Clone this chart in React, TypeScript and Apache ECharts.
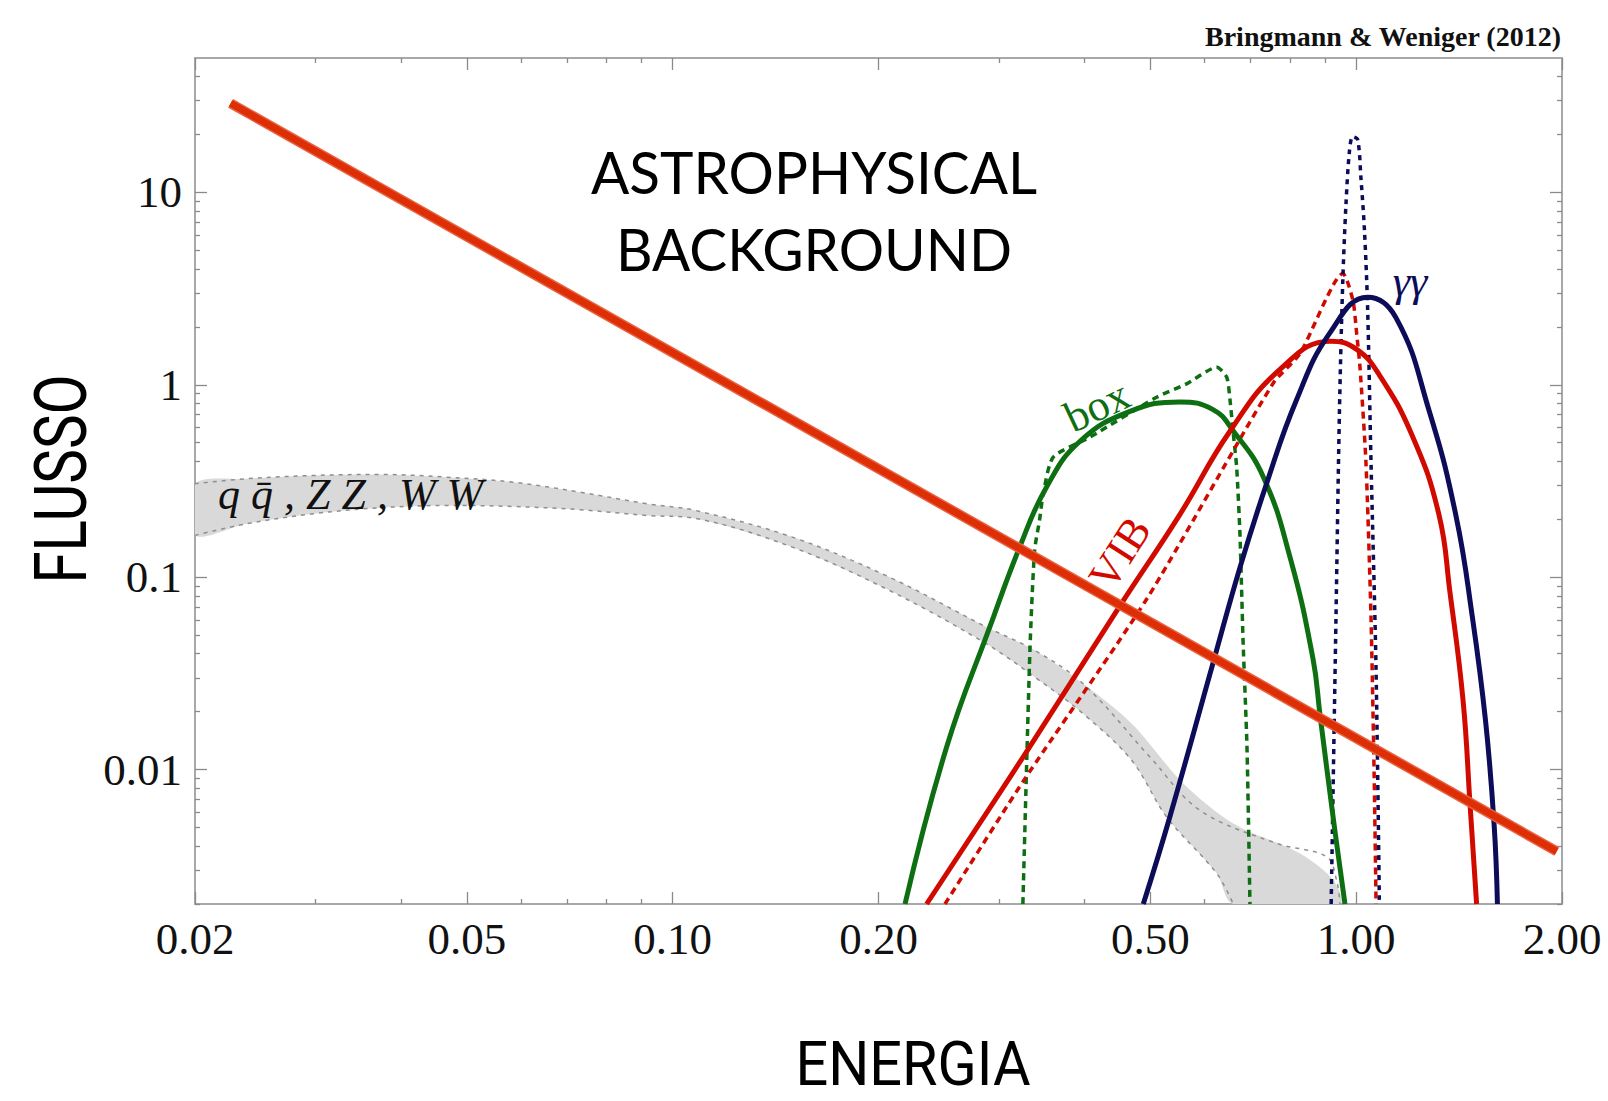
import React, { useEffect, useRef } from "react";
import * as echarts from "echarts";

// ---------- axes ----------
const xRange = [0.02, 2];
const yRange = [0.002, 50];
const xMajorTicks = [0.02, 0.05, 0.1, 0.2, 0.5, 1, 2];
const xMinorTicks = [0.03, 0.04, 0.06, 0.07, 0.08, 0.09, 0.3, 0.4, 0.6, 0.7, 0.8, 0.9];
const yMajorTicks = [0.01, 0.1, 1, 10];
const yMinorTicks = [
  0.002, 0.003, 0.004, 0.005, 0.006, 0.007, 0.008, 0.009,
  0.02, 0.03, 0.04, 0.05, 0.06, 0.07, 0.08, 0.09,
  0.2, 0.3, 0.4, 0.5, 0.6, 0.7, 0.8, 0.9,
  2, 3, 4, 5, 6, 7, 8, 9, 20, 30, 40,
];

// ---------- astrophysical background (power law) ----------
const bgE = [0.02255, 1.965];
const bgF = [29.07, 0.003753];

// ---------- box ----------
const boxSolidE = [0.2187, 0.2518, 0.291, 0.3221, 0.3525, 0.3943, 0.4667, 0.5522, 0.6173, 0.6604, 0.7304, 0.7998, 0.8643, 0.885, 0.9247, 0.9627];
const boxSolidF = [0.002, 0.01321, 0.0551, 0.1445, 0.2953, 0.509, 0.7275, 0.815, 0.7434, 0.5776, 0.3347, 0.1275, 0.0378, 0.0193, 0.00571, 0.002];
const boxDashE = [0.3253, 0.3331, 0.3384, 0.344, 0.3484, 0.3603, 0.4076, 0.5105, 0.5648, 0.6251, 0.6464, 0.6537, 0.6609, 0.6684, 0.676, 0.683, 0.692, 0.699];
const boxDashF = [0.002, 0.0417, 0.1378, 0.197, 0.2715, 0.4205, 0.534, 0.862, 1.012, 1.234, 1.095, 0.829, 0.5565, 0.373, 0.164, 0.0466, 0.0132, 0.002];

// ---------- VIB ----------
const vibSolidE = [0.2352, 0.3257, 0.451, 0.5522, 0.6531, 0.7727, 0.918, 0.999, 1.08, 1.209, 1.321, 1.371, 1.433, 1.467, 1.5];
const vibSolidF = [0.002, 0.01165, 0.0709, 0.2122, 0.572, 1.2, 1.687, 1.538, 1.131, 0.5387, 0.212, 0.0839, 0.0229, 0.00664, 0.002];
const vibDashE = [0.2502, 0.3257, 0.4937, 0.7554, 0.8273, 0.9563, 0.989, 1.0014, 1.0127, 1.0332, 1.051, 1.062, 1.069];
const vibDashF = [0.002, 0.0087, 0.077, 1.016, 1.454, 3.786, 2.742, 1.847, 1.234, 0.395, 0.0618, 0.00962, 0.002];

// ---------- gamma gamma ----------
const ggSolidE = [0.488, 0.534, 0.6178, 0.676, 0.7396, 0.8171, 0.914, 1.039, 1.143, 1.278, 1.398, 1.479, 1.546, 1.591, 1.609];
const ggSolidF = [0.002, 0.00572, 0.0362, 0.1125, 0.3078, 0.829, 1.851, 2.855, 2.236, 0.7355, 0.212, 0.0618, 0.01786, 0.0052, 0.002];
const ggDashE = [0.919, 0.934, 0.945, 0.9556, 0.966, 0.977, 0.988, 1.005, 1.016, 1.028, 1.039, 1.051, 1.069, 1.081];
const ggDashF = [0.002, 0.0616, 0.732, 3.44, 8.7, 16.16, 19.5, 18.8, 11.85, 6.39, 2.52, 0.395, 0.0332, 0.002];

// ---------- q qbar, ZZ, WW band ----------
const bandUpperE = [0.02, 0.0238, 0.02979, 0.0373, 0.0467, 0.05843, 0.07315, 0.09161, 0.1079, 0.1496, 0.2074, 0.2875, 0.3384, 0.3983, 0.4692, 0.5585, 0.6608, 0.8274, 0.9256, 0.9467];
const bandUpperF = [0.306, 0.3248, 0.3379, 0.342, 0.3311, 0.3119, 0.2768, 0.2408, 0.2223, 0.1616, 0.1001, 0.0551, 0.04166, 0.02798, 0.01734, 0.00846, 0.00524, 0.00366, 0.00266, 0.002];
const bandLowerE = [0.02, 0.0238, 0.02979, 0.0373, 0.0467, 0.05843, 0.07315, 0.09161, 0.1079, 0.1496, 0.2074, 0.2875, 0.3384, 0.3983, 0.4692, 0.528, 0.6251, 0.6608];
const bandLowerF = [0.1649, 0.1896, 0.2137, 0.2296, 0.236, 0.2332, 0.2242, 0.2094, 0.202, 0.1433, 0.0854, 0.0451, 0.0303, 0.01954, 0.01117, 0.00567, 0.00288, 0.002];
const bandUpperDashE = [0.02, 0.0238, 0.02979, 0.0373, 0.0467, 0.05843, 0.07315, 0.09161, 0.1079, 0.1496, 0.2074, 0.2875, 0.3384, 0.3983, 0.4991, 0.5906, 0.765, 0.905, 0.936, 0.9467];
const bandUpperDashF = [0.306, 0.3248, 0.3379, 0.342, 0.3311, 0.3119, 0.2768, 0.2408, 0.2223, 0.1616, 0.1001, 0.0551, 0.04166, 0.02798, 0.01163, 0.00614, 0.00413, 0.00352, 0.00266, 0.002];

// ---------- colours ----------
const GREEN = "#0e6e12";
const RED = "#d10a00";
const NAVY = "#0c0c58";
const BG_RED = "#dd2e05";
const BAND = "#d9d9d9";
const BAND_LINE = "#8f8f8f";

const SERIF = "'Liberation Serif', 'Times New Roman', serif";
const lx = (v: number) => Math.log10(v);
const toData = (E: number[], F: number[]) => E.map((e, i) => [lx(e), lx(F[i])]);

function buildOption(): any {
  const axisLine = { show: true, onZero: false, lineStyle: { color: "#a8a8a8", width: 2 } };
  const tickStyle = { color: "#8a8a8a", width: 1.3 };
  const xBase = { type: "value", min: lx(xRange[0]), max: lx(xRange[1]), splitLine: { show: false }, gridIndex: 0 };
  const yBase = { type: "value", min: lx(yRange[0]), max: lx(yRange[1]), splitLine: { show: false }, gridIndex: 0 };

  const majorX = xMajorTicks.map(lx);
  const minorX = xMinorTicks.map(lx);
  const majorY = yMajorTicks.map(lx);
  const minorY = yMinorTicks.map(lx);

  const xAxis = [
    {
      ...xBase, position: "bottom", axisLine,
      axisTick: { show: true, inside: true, length: 12, lineStyle: tickStyle, customValues: majorX },
      axisLabel: {
        show: true, customValues: majorX, margin: 12,
        formatter: (v: number) => Math.pow(10, v).toFixed(2),
        fontFamily: SERIF, fontSize: 45, color: "#111",
      },
    },
    {
      ...xBase, position: "top", axisLine,
      axisTick: { show: true, inside: true, length: 12, lineStyle: tickStyle, customValues: majorX },
      axisLabel: { show: false },
    },
    {
      ...xBase, position: "bottom", axisLine: { show: false, onZero: false },
      axisTick: { show: true, inside: true, length: 5, lineStyle: tickStyle, customValues: minorX },
      axisLabel: { show: false },
    },
    {
      ...xBase, position: "top", axisLine: { show: false, onZero: false },
      axisTick: { show: true, inside: true, length: 5, lineStyle: tickStyle, customValues: minorX },
      axisLabel: { show: false },
    },
  ];
  const yAxis = [
    {
      ...yBase, position: "left", axisLine,
      axisTick: { show: true, inside: true, length: 12, lineStyle: tickStyle, customValues: majorY },
      axisLabel: {
        show: true, customValues: majorY, margin: 13,
        formatter: (v: number) => String(parseFloat(Math.pow(10, v).toPrecision(2))),
        fontFamily: SERIF, fontSize: 45, color: "#111",
      },
    },
    {
      ...yBase, position: "right", axisLine,
      axisTick: { show: true, inside: true, length: 12, lineStyle: tickStyle, customValues: majorY },
      axisLabel: { show: false },
    },
    {
      ...yBase, position: "left", axisLine: { show: false, onZero: false },
      axisTick: { show: true, inside: true, length: 5, lineStyle: tickStyle, customValues: minorY },
      axisLabel: { show: false },
    },
    {
      ...yBase, position: "right", axisLine: { show: false, onZero: false },
      axisTick: { show: true, inside: true, length: 5, lineStyle: tickStyle, customValues: minorY },
      axisLabel: { show: false },
    },
  ];

  const line = (name: string, E: number[], F: number[], color: string, width: number, type: any, z: number, smooth = 0.45) => ({
    name, type: "line", data: toData(E, F), xAxisIndex: 0, yAxisIndex: 0,
    showSymbol: false, symbol: "none", smooth, clip: true, silent: true, z,
    lineStyle: { color, width, type, cap: "butt", join: "round" },
  });

  const series: any[] = [
    {
      name: "band", type: "custom", coordinateSystem: "cartesian2d", xAxisIndex: 0, yAxisIndex: 0,
      clip: true, silent: true, z: 1,
      data: [[lx(bandUpperE[0]), lx(bandUpperF[0])]],
      renderItem: (_params: any, api: any) => {
        const up = bandUpperE.map((e, i) => api.coord([lx(e), lx(bandUpperF[i])]));
        const lo = bandLowerE.map((e, i) => api.coord([lx(e), lx(bandLowerF[i])])).reverse();
        return { type: "polygon", shape: { points: up.concat(lo), smooth: 0.3 }, style: { fill: BAND, stroke: null } };
      },
    },
    line("band upper", bandUpperDashE, bandUpperDashF, BAND_LINE, 1.5, [4, 5], 2, 0.35),
    line("band lower", bandLowerE, bandLowerF, BAND_LINE, 1.5, [4, 5], 2, 0.35),
    line("box (dashed)", boxDashE, boxDashF, GREEN, 3.5, [7, 5], 3, 0.22),
    line("VIB (dashed)", vibDashE, vibDashF, RED, 3.5, [7, 5], 3, 0.22),
    line("γγ (dashed)", ggDashE, ggDashF, NAVY, 3.5, [5, 5], 3, 0.3),
    line("box", boxSolidE, boxSolidF, GREEN, 5, "solid", 4),
    line("VIB", vibSolidE, vibSolidF, RED, 5, "solid", 4),
    line("γγ", ggSolidE, ggSolidF, NAVY, 5, "solid", 4),
    line("background halo", bgE, bgF, "#e8613f", 10, "solid", 5, 0),
    line("astrophysical background", bgE, bgF, BG_RED, 7, "solid", 6, 0),
  ];

  const txt = (text: string, x: number, y: number, style: any, extra: any = {}) => ({
    type: "text", x, y, z: 100, silent: true, ...extra,
    style: { text, align: "center", verticalAlign: "middle", ...style },
  });

  const graphic = [
    txt("Bringmann & Weniger (2012)", 1561, 36, { fontFamily: SERIF, fontWeight: "bold", fontSize: 28, fill: "#111", align: "right" }),
    txt("ASTROPHYSICAL", 814, 171, { fontFamily: "Lato, 'Open Sans', sans-serif", fontSize: 59, fill: "#000" }, { scaleX: 0.96 }),
    txt("BACKGROUND", 814, 248, { fontFamily: "Lato, 'Open Sans', sans-serif", fontSize: 59, fill: "#000" }, { scaleX: 0.96 }),
    txt("FLUSSO", 61, 479, { fontFamily: "Roboto, sans-serif", fontSize: 72, lineHeight: 56, fill: "#000" }, { rotation: Math.PI / 2, scaleX: 0.81 }),
    txt("ENERGIA", 913, 1064, { fontFamily: "Roboto, sans-serif", fontSize: 62, lineHeight: 50, fill: "#000" }, { scaleX: 0.93 }),
    txt("box", 1097, 406, { fontFamily: SERIF, fontSize: 44, fill: GREEN }, { rotation: 0.44 }),
    txt("VIB", 1120, 553, { fontFamily: SERIF, fontSize: 44, fill: RED }, { rotation: 1.0 }),
    txt("γγ", 1410, 281, { fontFamily: SERIF, fontStyle: "italic", fontSize: 44, fill: NAVY }),
    txt("q q\u0304 , Z Z , W W", 218, 494, { fontFamily: SERIF, fontStyle: "italic", fontSize: 44, fill: "#111", align: "left" }),
  ];

  return {
    animation: false,
    backgroundColor: "#ffffff",
    grid: { left: 195, right: 46, top: 58, bottom: 197, containLabel: false, outerBoundsMode: "none" },
    xAxis,
    yAxis,
    series,
    graphic,
  };
}

export default function App() {
  const ref = useRef<HTMLDivElement>(null);
  useEffect(() => {
    document.body.style.margin = "0";
    if (!ref.current) return;
    const chart = echarts.init(ref.current, null, { renderer: "svg" });
    chart.setOption(buildOption());
    return () => chart.dispose();
  }, []);
  return <div ref={ref} style={{ width: 1608, height: 1101, background: "#fff" }} />;
}
